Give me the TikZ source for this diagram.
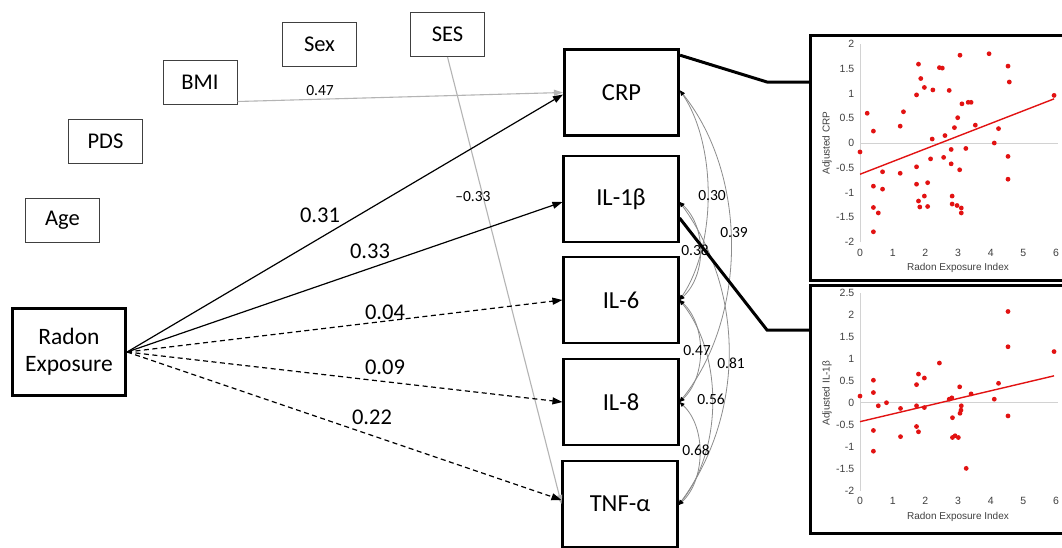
\documentclass[tikz,border=0pt]{standalone}
\usepackage{fontspec}
\setmainfont{Carlito}
\newfontfamily\plotfont{Liberation Sans}
\usetikzlibrary{arrows.meta}
\definecolor{ptred}{RGB}{226,18,18}
\definecolor{axgrey}{RGB}{210,210,210}
\definecolor{tickgrey}{RGB}{64,64,64}
\definecolor{pathgrey}{RGB}{180,180,180}
\definecolor{arcgrey}{RGB}{140,140,140}
\begin{document}
\begin{tikzpicture}[x=1pt,y=-1pt,
  covbox/.style={draw=black!75, line width=1pt, minimum width=74pt, minimum height=44pt, inner sep=0pt, font=\fontsize{22.5}{26}\selectfont},
  mkbox/.style={draw, line width=2.6pt, minimum width=114.5pt, minimum height=86pt, inner sep=0pt, font=\fontsize{24.5}{28}\selectfont},
  pth/.style={line width=1.2pt, -{Triangle[length=10pt,width=7pt]}},
  pthd/.style={pth, dash pattern=on 5pt off 3.5pt},
  greypth/.style={draw=pathgrey, line width=1.1pt, -{Triangle[length=9pt,width=6pt,color=pathgrey]}},
  bigval/.style={font=\fontsize{22.5}{26}\selectfont, inner sep=0pt},
  smallval/.style={font=\fontsize{15.5}{18}\selectfont, inner sep=0pt},
  cov/.style={draw=arcgrey, line width=0.8pt, {Triangle[length=5pt,width=4pt,color=black]}-{Triangle[length=5pt,width=4pt,color=black]}},
  link/.style={line width=3pt},
  panel/.style={draw, line width=3pt, inner sep=0pt, minimum width=254pt},
  ticklab/.style={font=\plotfont\fontsize{10.5}{12}\selectfont, text=tickgrey, inner sep=0pt},
  axtitle/.style={font=\plotfont\fontsize{10}{12}\selectfont, text=tickgrey, inner sep=0pt},
  axline/.style={draw=axgrey, line width=0.9pt},
  regline/.style={draw=ptred, line width=1.4pt}
]
\useasboundingbox (0,0) rectangle (1062,547);
\clip (0,0) rectangle (1062,547);
\fill[white] (0,0) rectangle (1062,547);

% covariate boxes
\node[covbox] (sex) at (319.5,44.5) {Sex};
\node[covbox] (ses) at (447.5,34.5) {SES};
\node[covbox] (bmi) at (200,82) {BMI};
\node[covbox] (pds) at (105.5,141.5) {PDS};
\node[covbox] (age) at (62.5,220.5) {Age};

% exposure
\node[draw, line width=2.6pt, minimum width=113.5pt, minimum height=87.5pt, inner sep=0pt, align=center, font=\fontsize{23.5}{27}\selectfont] (radon) at (69,352) {Radon\\Exposure};

% markers
\node[mkbox] (crp) at (621.5,92.5) {CRP};
\node[mkbox] (il1b) at (621,199) {IL-1β};
\node[mkbox] (il6) at (621,300) {IL-6};
\node[mkbox] (il8) at (621,402) {IL-8};
\node[mkbox] (tnf) at (620,504) {TNF-α};

% plot panels
\node[panel, minimum height=245pt] (pA) at (937.5,158) {};
\node[panel, minimum height=248pt] (pB) at (937.5,409.5) {};

% covariate paths
\draw[greypth] ([yshift=3pt]bmi.south east) -- (crp.west);
\draw[greypth] (ses.south) -- (tnf.west);
\node[smallval] (l047) at (320,91) {0.47};
\node[smallval] (l033) at (473,197) {–0.33};

% exposure paths
\draw[pth] (radon.east) -- ([yshift=-2pt]crp.west);
\draw[pth] (radon.east) -- ([yshift=-3pt]il1b.west);
\draw[pthd] (radon.east) -- (il6.west);
\draw[pthd] (radon.east) -- (il8.west);
\draw[pthd] (radon.east) -- ([yshift=4pt]tnf.west);
\node[bigval] (v1) at (320,215) {0.31};
\node[bigval] (v2) at (370,251) {0.33};
\node[bigval] (v3) at (385,312) {0.04};
\node[bigval] (v4) at (385,367) {0.09};
\node[bigval] (v5) at (372,417) {0.22};

% covariances
\draw[cov] ([yshift=2pt]crp.east) .. controls +(37,55) and +(37,-55) .. (il6.east);
\draw[cov] ([yshift=2pt]crp.east) .. controls +(68,85) and +(68,-85) .. (il8.east);
\draw[cov] ([yshift=-3pt]il1b.east) .. controls +(27,25) and +(27,-25) .. (il6.east);
\draw[cov] ([yshift=-3pt]il1b.east) .. controls +(66,90) and +(66,-90) .. ([yshift=-1pt]tnf.east);
\draw[cov] (il6.east) .. controls +(27,25) and +(27,-25) .. (il8.east);
\draw[cov] (il6.east) .. controls +(44,55) and +(44,-55) .. ([yshift=-1pt]tnf.east);
\draw[cov] (il8.east) .. controls +(27,25) and +(27,-25) .. ([yshift=-1pt]tnf.east);
\node[smallval] (c1) at (712,196) {0.30};
\node[smallval] (c2) at (734,233) {0.39};
\node[smallval] (c3) at (695,250) {0.38};
\node[smallval] (c4) at (697,351) {0.47};
\node[smallval] (c5) at (731,363) {0.81};
\node[smallval] (c6) at (711,399) {0.56};
\node[smallval] (c7) at (696,450) {0.68};

% links to plots
\coordinate (k1) at (767,82);
\coordinate (k2) at (767,330);
\draw[link] ([yshift=-7pt]crp.north east) -- (k1) -- (k1 -| pA.west);
\draw[link] ([yshift=-19pt]il1b.east) -- (k2) -- (k2 -| pB.west);

% plot A
\begin{scope}[shift={(860,143)}, x=32.67pt, y=49.6pt]
  \draw[axline] (0,-2) -- (0,2);
  \draw[axline] (0,0) -- (6.05,0);
  \foreach \v in {2,1.5,1,0.5,0,-0.5,-1,-1.5,-2}
    \node[ticklab, anchor=east] at (-0.17,\v) {\v};
  \foreach \v in {0,...,6}
    \node[ticklab, anchor=north] at (\v,-2.13) {\v};
  \node[axtitle, rotate=90] at (-1.01,0) {Adjusted CRP};
  \node[axtitle] at (3,-2.52) {Radon Exposure Index};
  \draw[regline] (0,-0.63) -- (5.94,0.89);
  \foreach \px/\py in {0/-0.18,0.22/0.60,0.41/0.24,0.41/-0.87,0.41/-1.30,0.41/-1.79,0.56/-1.41,0.69/-0.58,0.69/-0.93,1.23/0.34,1.23/-0.61,1.33/0.63,1.73/0.97,1.73/-0.48,1.73/-0.83,1.79/1.59,1.79/-1.17,1.83/-1.29,1.86/1.30,1.97/1.12,1.97/-1.07,2.07/-0.80,2.07/-1.28,2.16/-0.32,2.21/0.08,2.23/1.07,2.43/1.52,2.52/1.51,2.56/-0.29,2.60/0.15,2.73/1.06,2.79/-0.42,2.79/-0.13,2.82/-1.07,2.82/-1.23,2.89/0.31,2.97/-1.26,2.99/0.51,3.05/-0.54,3.06/1.77,3.10/-1.31,3.10/-1.41,3.12/0.79,3.24/-0.11,3.31/0.82,3.40/0.82,3.53/0.36,3.95/1.80,4.11/0.0,4.24/0.29,4.53/1.55,4.53/-0.27,4.53/-0.73,4.57/1.23,5.94/0.96}
    \fill[ptred] (\px,\py) circle (2.4pt);
\end{scope}

% plot B
\begin{scope}[shift={(860,402.7)}, x=32.67pt, y=44.07pt]
  \draw[axline] (0,-2) -- (0,2.5);
  \draw[axline] (0,0) -- (6.05,0);
  \foreach \v in {2.5,2,1.5,1,0.5,0,-0.5,-1,-1.5,-2}
    \node[ticklab, anchor=east] at (-0.17,\v) {\v};
  \foreach \v in {0,...,6}
    \node[ticklab, anchor=north] at (\v,-2.14) {\v};
  \node[axtitle, rotate=90] at (-1.01,0.22) {Adjusted IL-1β};
  \node[axtitle] at (3,-2.59) {Radon Exposure Index};
  \draw[regline] (0,-0.43) -- (5.94,0.61);
  \foreach \px/\py in {0/0.15,0.41/0.51,0.41/0.23,0.41/-0.63,0.41/-1.10,0.56/-0.07,0.81/0.0,1.24/-0.13,1.24/-0.77,1.73/0.41,1.73/-0.07,1.73/-0.54,1.79/0.65,1.79/-0.66,1.97/0.56,1.97/-0.11,2.43/0.90,2.73/0.08,2.81/0.11,2.83/-0.34,2.83/-0.79,2.91/-0.75,3.01/-0.79,3.05/0.36,3.10/-0.07,3.09/-0.17,3.06/-0.24,3.25/-1.49,3.40/0.20,4.11/0.08,4.24/0.44,4.53/2.07,4.53/1.27,4.53/-0.30,5.94/1.16}
    \fill[ptred] (\px,\py) circle (2.4pt);
\end{scope}
\end{tikzpicture}
\end{document}
